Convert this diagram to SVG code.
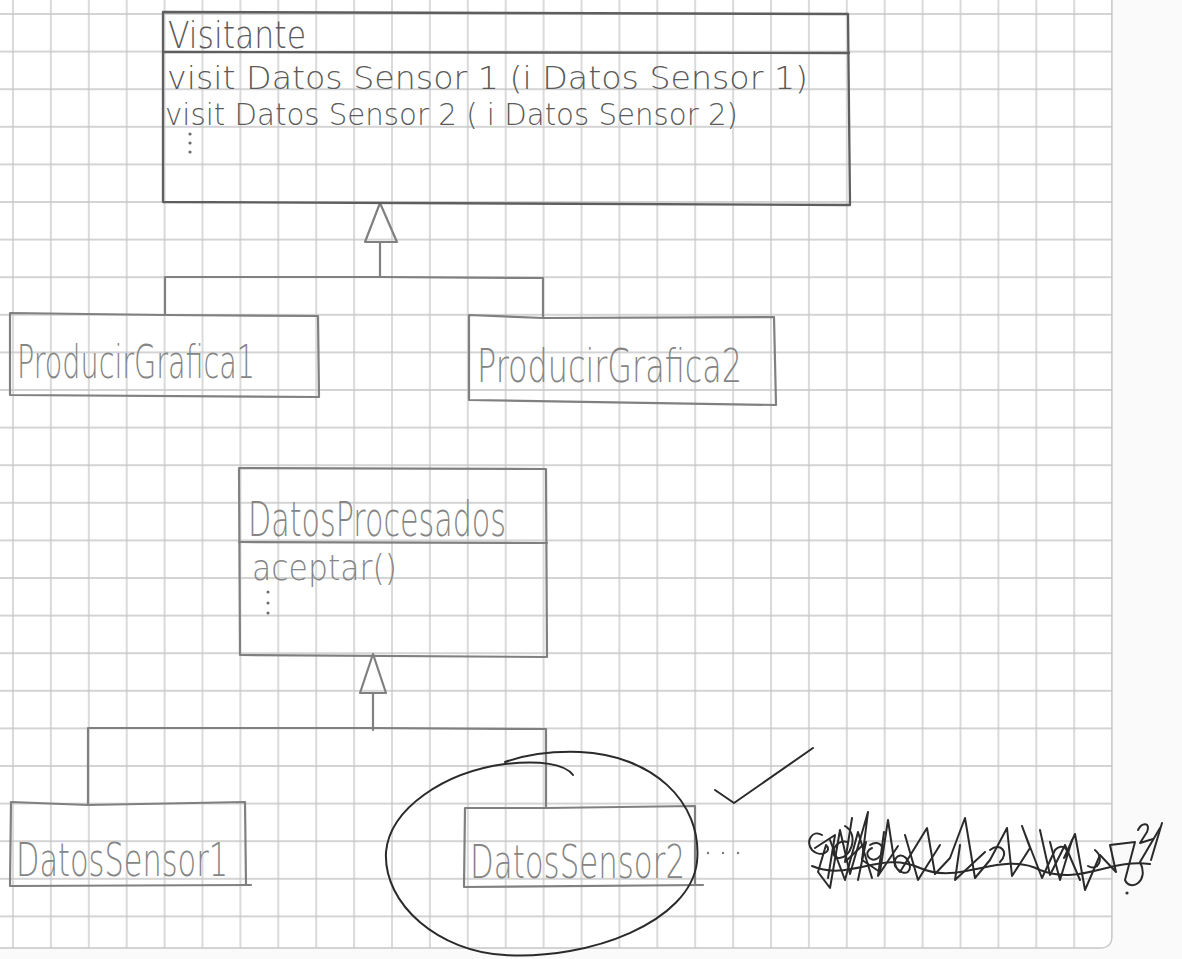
<svg xmlns="http://www.w3.org/2000/svg" width="1182" height="959" viewBox="0 0 1182 959">
  <defs>
    <!-- squared notebook paper -->
    <pattern id="grid" x="-5.95" y="-4.8" width="37.9" height="37.6" patternUnits="userSpaceOnUse">
      <path d="M0 18.8 H37.9 M18.95 0 V37.6" fill="none" stroke="#c6c6c6" stroke-width="1.3"/>
    </pattern>
    <style>
      .pencil { fill: none; stroke: #808080; stroke-width: 2.2; stroke-linejoin: round; stroke-linecap: round; }
      .pencil-dark { fill: none; stroke: #5e5e5e; stroke-width: 2.3; stroke-linejoin: round; stroke-linecap: round; }
      .pen { fill: none; stroke: #2a2a2a; stroke-width: 2; stroke-linejoin: round; stroke-linecap: round; }
      .hand { font-family: "DejaVu Sans", "Liberation Sans", sans-serif; font-weight: 200; fill: #858585; }
      .hand-dark { font-family: "DejaVu Sans", "Liberation Sans", sans-serif; font-weight: 200; fill: #5a5a5a; }
      .dot { fill: #6a6a6a; }
    </style>
  </defs>

  <!-- page background and sheet -->
  <rect x="0" y="0" width="1182" height="959" fill="#fafafa"/>
  <path d="M0 0 H1112 V936 Q1112 948 1100 948 H0 Z" fill="#ffffff"/>
  <path d="M0 0 H1112 V936 Q1112 948 1100 948 H0 Z" fill="url(#grid)"/>
  <path d="M1112 0 V936 Q1112 948 1100 948 H0" fill="none" stroke="#c6c6c6" stroke-width="1.3"/>

  <!-- inheritance connectors -->
  <g id="connectors">
    <path class="pencil" d="M165 315 V277 H380 L543 278 V318"/>
    <path class="pencil" d="M380 277 V242"/>
    <polygon class="pencil" points="380,203 365,242 397,242" stroke-width="3"/>
    <path class="pencil" d="M88 804 V728 H373 L546 729 V808"/>
    <path class="pencil" d="M373 730 V693"/>
    <polygon class="pencil" points="373,654 360,693 386,693" stroke-width="2.6"/>
  </g>

  <g id="visitante">
    <path class="pencil-dark" d="M163 12 L848 14 L850 205 L163 202 Z"/>
    <path class="pencil-dark" d="M163 52 L849 53"/>
    <text class="hand-dark" x="168" y="48" font-size="38" textLength="138" lengthAdjust="spacingAndGlyphs">Visitante</text>
    <text class="hand-dark" x="167" y="89" font-size="32" textLength="641" lengthAdjust="spacingAndGlyphs">visit Datos Sensor 1 (i  Datos Sensor 1)</text>
    <text class="hand-dark" x="165" y="125" font-size="31" textLength="573" lengthAdjust="spacingAndGlyphs">visit Datos Sensor 2 ( i Datos Sensor 2)</text>
    <circle class="dot" cx="190" cy="134" r="1.6"/>
    <circle class="dot" cx="190" cy="143" r="1.6"/>
    <circle class="dot" cx="190" cy="152" r="1.6"/>
  </g>

  <g id="producir-grafica-1">
    <path class="pencil" d="M10 313 L165 315 L318 316 L319 397 L10 395 Z"/>
    <text class="hand" x="17" y="378" font-size="46" textLength="238" lengthAdjust="spacingAndGlyphs">ProducirGrafica1</text>
  </g>

  <g id="producir-grafica-2">
    <path class="pencil" d="M469 315 L543 318 L774 317 L776 405 L469 400 Z"/>
    <text class="hand" x="477" y="382" font-size="46" textLength="265" lengthAdjust="spacingAndGlyphs">ProducirGrafica2</text>
  </g>

  <g id="datos-procesados">
    <path class="pencil" d="M239 468 L546 469 L547 657 L240 655 Z"/>
    <path class="pencil" d="M239 542 L547 543"/>
    <text class="hand" x="248" y="536" font-size="48" textLength="258" lengthAdjust="spacingAndGlyphs">DatosProcesados</text>
    <text class="hand" x="252" y="580" font-size="36" textLength="145" lengthAdjust="spacingAndGlyphs">aceptar()</text>
    <circle class="dot" cx="268" cy="592" r="1.5"/>
    <circle class="dot" cx="268" cy="603" r="1.5"/>
    <circle class="dot" cx="268" cy="613" r="1.5"/>
  </g>

  <g id="datos-sensor-1">
    <path class="pencil" d="M251 885 L10 886 L11 802 L88 805 L245 802 L246 885"/>
    <text class="hand" x="16" y="876" font-size="46" textLength="212" lengthAdjust="spacingAndGlyphs">DatosSensor1</text>
  </g>

  <g id="datos-sensor-2">
    <path class="pencil" d="M703 885 L464 887 L465 808 L546 808 L695 806 L695 885"/>
    <text class="hand" x="470" y="878" font-size="46" textLength="215" lengthAdjust="spacingAndGlyphs">DatosSensor2</text>
  </g>

  <!-- marks added in pen -->
  <g id="annotations">
    <path class="pen" d="M573 775 C565 764 540 760 505 764 C445 772 390 808 386 852 C383 905 440 952 505 955 C590 960 690 922 697 862 C703 800 650 755 580 752 C550 751 525 755 505 762"/>
    <path class="pen" d="M715 790 L734 803 L813 748"/>
    <circle cx="708" cy="853" r="1.2" fill="#777"/>
    <circle cx="723" cy="853" r="1.2" fill="#777"/>
    <circle cx="738" cy="853" r="1.2" fill="#777"/>
    <!-- scratched-out word -->
    <path class="pen" d="M822 835 C812 829 805 842 812 850 C820 858 833 852 826 845 L818 872 L830 888 L840 830 L850 874 L868 812 L862 860 L880 872 L888 820 L895 866 C905 880 916 870 906 858 C898 850 889 862 900 872 L927 828 L935 874 L950 858 L965 818 L975 878 L990 860 L1007 828 L1012 876 L1030 848 L1022 826 L1042 878 L1055 850 C1062 842 1072 850 1064 858 L1075 834 L1085 890 L1100 855 L1116 872 L1110 845 L1135 842 L1125 880 C1130 892 1150 882 1140 862 L1160 828"/>
    <path class="pen" d="M812 866 C850 882 880 850 920 868 C960 886 1000 850 1040 870 C1080 886 1110 858 1150 864"/>
    <path class="pen" d="M830 840 L845 880 L858 832 L872 878 M905 835 L918 880 L940 845 M1040 830 L1050 875 L1065 845 L1080 880"/>
    <path class="pen" d="M845 826 C860 835 850 860 838 858 C828 856 835 838 848 842 M870 845 C880 838 888 850 878 858 C870 864 862 852 872 848 M990 850 C1000 842 1010 852 1000 862 M1095 850 C1105 858 1098 872 1088 866"/>
    <path class="pen" d="M815 848 L835 835 L828 878 M852 818 L845 862 L866 842 L858 880 M884 832 L878 876 L898 846 M960 845 L955 880 L985 852 M1050 842 L1060 880 L1072 840"/>
    <path class="pen" d="M1138 830 C1142 822 1151 822 1147 832 L1140 843 L1153 839 M1162 823 L1151 860"/>
    <circle cx="1127" cy="893" r="1.6" fill="#333"/>
  </g>
</svg>
